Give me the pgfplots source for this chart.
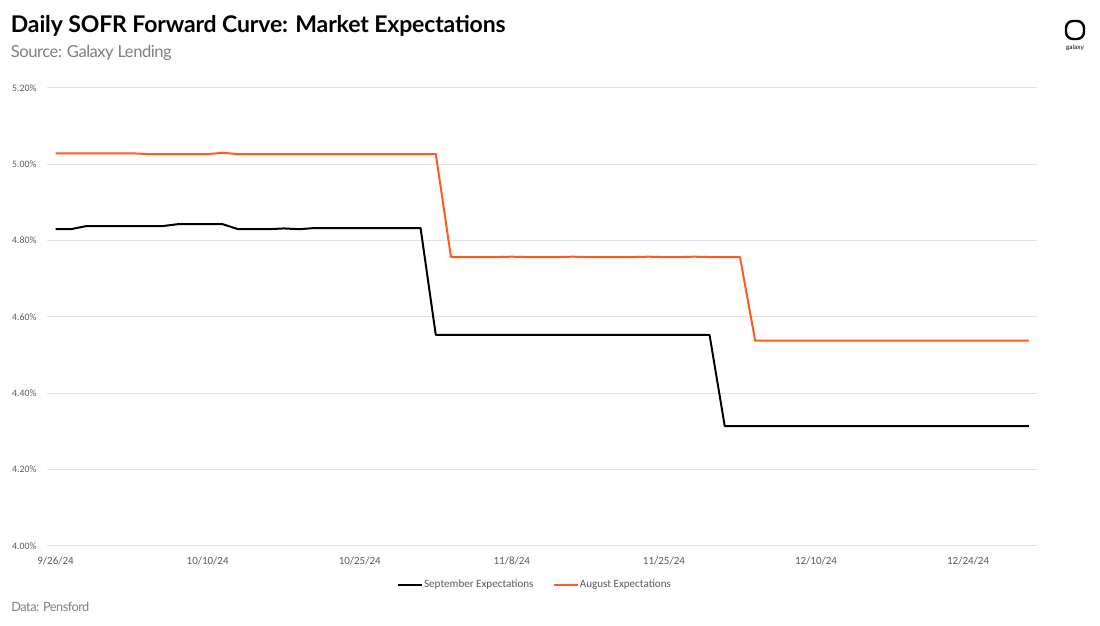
\documentclass[border=0pt]{standalone}
\usepackage{fontspec}
\usepackage{pgfplots}
\pgfplotsset{compat=1.18}
\setmainfont{Lato}
\newfontfamily\tickfont{Carlito}
\definecolor{sofrorange}{HTML}{FF5A1F}
\definecolor{ticgray}{HTML}{595959}
\definecolor{subgray}{HTML}{7F7F7F}
\definecolor{gridgray}{HTML}{E3E3E3}
\begin{document}
\begin{tikzpicture}
\path[use as bounding box] (0,0) rectangle (550pt,313pt);
\begin{axis}[
  at={(23.75pt,40pt)}, anchor=south west,
  width=494.75pt, height=229pt, scale only axis,
  xmin=-0.53, xmax=64.53, ymin=4, ymax=5.2,
  axis line style={draw=none},
  tick style={draw=none},
  ymajorgrids, major grid style={gridgray, line width=0.5pt},
  ytick={4,4.2,4.4,4.6,4.8,5,5.2},
  yticklabels={4.00\%,4.20\%,4.40\%,4.60\%,4.80\%,5.00\%,5.20\%},
  xtick={0,10,20,30,40,50,60},
  xticklabels={9/26/24,10/10/24,10/25/24,11/8/24,11/25/24,12/10/24,12/24/24},
  yticklabel style={font=\tickfont\fontsize{4.9pt}{5pt}\selectfont, text=ticgray, anchor=east, inner sep=0pt, xshift=-5.25pt},
  xticklabel style={font=\tickfont\fontsize{5.5pt}{6pt}\selectfont, text=ticgray, anchor=center, inner sep=0pt, yshift=-7.5pt},
  legend columns=2,
  legend style={at={(0.4922,-0.0852)}, anchor=center, draw=none, fill=none,
    font=\tickfont\fontsize{5.55pt}{6pt}\selectfont, text=ticgray,
    /tikz/every even column/.append style={column sep=9pt},
    nodes={inner sep=0.6pt}},
  legend image code/.code={\draw[#1] (0pt,0pt) -- (12pt,0pt);},
]
\addplot[black, line width=1pt, line join=round] coordinates {
(0,4.830)(1,4.830)(2,4.838)(3,4.838)(4,4.838)(5,4.838)(6,4.838)(7,4.838)
(8,4.843)(9,4.843)(10,4.843)(11,4.843)(12,4.830)(13,4.830)(14,4.830)(15,4.832)
(16,4.830)(17,4.833)(18,4.833)(19,4.833)(20,4.833)(21,4.833)(22,4.833)(23,4.833)(24,4.833)
(25,4.553)(26,4.553)(27,4.553)(28,4.553)(29,4.553)(30,4.553)(31,4.553)(32,4.553)(33,4.553)
(34,4.553)(35,4.553)(36,4.553)(37,4.553)(38,4.553)(39,4.553)(40,4.553)(41,4.553)(42,4.553)(43,4.553)
(44,4.314)(45,4.314)(46,4.314)(47,4.314)(48,4.314)(49,4.314)(50,4.314)(51,4.314)(52,4.314)
(53,4.314)(54,4.314)(55,4.314)(56,4.314)(57,4.314)(58,4.314)(59,4.314)(60,4.314)(61,4.314)
(62,4.314)(63,4.314)(64,4.314)
};
\addlegendentry{September Expectations}
\addplot[sofrorange, line width=1pt, line join=round] coordinates {
(0,5.029)(1,5.029)(2,5.029)(3,5.029)(4,5.029)(5,5.029)(6,5.027)(7,5.027)(8,5.027)(9,5.027)
(10,5.027)(11,5.030)(12,5.027)(13,5.027)(14,5.027)(15,5.027)(16,5.027)(17,5.027)(18,5.027)
(19,5.027)(20,5.027)(21,5.027)(22,5.027)(23,5.027)(24,5.027)(25,5.027)
(26,4.757)(27,4.757)(28,4.757)(29,4.757)(30,4.758)(31,4.757)(32,4.757)(33,4.757)(34,4.758)
(35,4.757)(36,4.757)(37,4.757)(38,4.757)(39,4.758)(40,4.757)(41,4.757)(42,4.758)(43,4.757)
(44,4.757)(45,4.757)
(46,4.538)(47,4.538)(48,4.538)(49,4.538)(50,4.538)(51,4.538)(52,4.538)(53,4.538)(54,4.538)
(55,4.538)(56,4.538)(57,4.538)(58,4.538)(59,4.538)(60,4.538)(61,4.538)(62,4.538)(63,4.538)(64,4.538)
};
\addlegendentry{August Expectations}
\end{axis}
\node[anchor=base west, inner sep=0pt, font=\bfseries\fontsize{11.5pt}{13pt}\selectfont\addfontfeature{LetterSpace=-0.6}] at (5.25pt,296.8pt) {Daily SOFR Forward Curve: Market Expectations};
\node[anchor=base west, inner sep=0pt, text=subgray, font=\fontsize{8.3pt}{10pt}\selectfont\addfontfeature{LetterSpace=-3}] at (5.25pt,284pt) {Source: Galaxy Lending};
\node[anchor=base west, inner sep=0pt, text=subgray, font=\fontsize{6.4pt}{8pt}\selectfont\addfontfeature{LetterSpace=-4}] at (5.5pt,7pt) {Data: Pensford};
\draw[line width=1.2pt, rounded corners=3.5pt] (533pt,293.5pt) rectangle (542pt,302.5pt);
\node[inner sep=0pt, font=\fontsize{3.2pt}{4pt}\selectfont] at (537.5pt,289pt) {galaxy};
\end{tikzpicture}
\end{document}
